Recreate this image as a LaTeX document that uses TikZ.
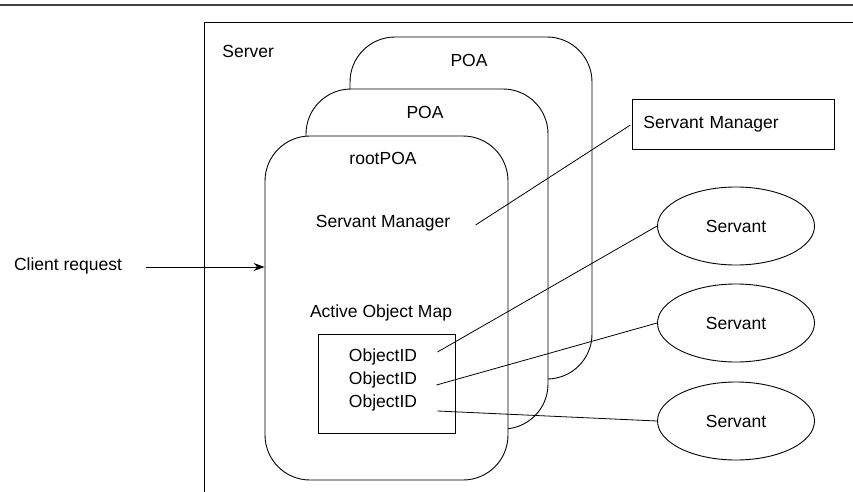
\documentclass[tikz,border=0pt]{standalone}
\usepackage{fontspec}
\setmainfont{Liberation Sans}
\usetikzlibrary{shapes.geometric,arrows.meta,calc}
\begin{document}
\begin{tikzpicture}[x=1pt,y=-1pt,
  every node/.style={font=\fontsize{17.5}{21}\selectfont},
  line width=0.9pt,
  poabox/.style={draw, fill=white, rounded corners=45pt, minimum width=242pt, minimum height=342pt, inner sep=0pt},
  lbl/.style={inner sep=2pt},
  servant/.style={draw, ellipse, minimum width=157pt, minimum height=78pt, inner sep=0pt},
  link/.style={line width=0.8pt}]
\useasboundingbox (0,0) rectangle (853,492);
% top rule and server frame
\draw[line width=1.6pt, black!75] (0,5) -- (853,5);
\draw (204,500) -- (204,22) -- (860,22);
\node[lbl, anchor=west] (server) at (220,51) {Server};
% POAs
\node[poabox] (poa2) at (471,208) {};
\node[poabox, minimum height=340pt] (poa1) at (427,259) {};
\node[poabox, minimum width=243pt, minimum height=344pt] (root) at (386.5,308) {};
\node[lbl] (poa2lbl) at (469,60) {POA};
\node[lbl] (poa1lbl) at (425,112) {POA};
\node[lbl] (rootlbl) at (383,158) {rootPOA};
\node[lbl] (sm1) at (383,223) {Servant Manager};
\node[lbl] (aom) at (381,313) {Active Object Map};
\node[draw, minimum width=137pt, minimum height=99pt, inner sep=0pt] (map) at (386.5,383.5) {};
\node[lbl] (o1) at (383,357) {ObjectID};
\node[lbl] (o2) at (383,380) {ObjectID};
\node[lbl] (o3) at (383,403) {ObjectID};
% right side
\node[draw, anchor=west, minimum height=50pt, text width=180pt, inner xsep=11pt, align=left] (smbox) at (632,124) {Servant Manager};
\node[servant] (s1) at (736,226) {Servant};
\node[servant] (s2) at (736,323) {Servant};
\node[servant] (s3) at (736,421) {Servant};
% client
\node[lbl] (client) at (68,266) {Client request};
\coordinate (cstart) at ($(client.east)+(22,1)$);
\draw[-{Stealth[length=11pt,width=8pt]}] (cstart) -- (cstart -| root.west);
% connectors
\coordinate (sma) at ($(sm1.east)+(23,2)$);
\draw[link, shorten >=2pt] (sma) -- (smbox.west);
\coordinate (oa) at ($(o1.east)+(18,-5)$);
\coordinate (ob) at ($(o2.east)+(17,5)$);
\coordinate (oc) at ($(o3.east)+(18,8)$);
\draw[link] (oa) -- (s1.west);
\draw[link] (ob) -- (s2.west);
\draw[link] (oc) -- (s3.west);
\end{tikzpicture}
\end{document}
